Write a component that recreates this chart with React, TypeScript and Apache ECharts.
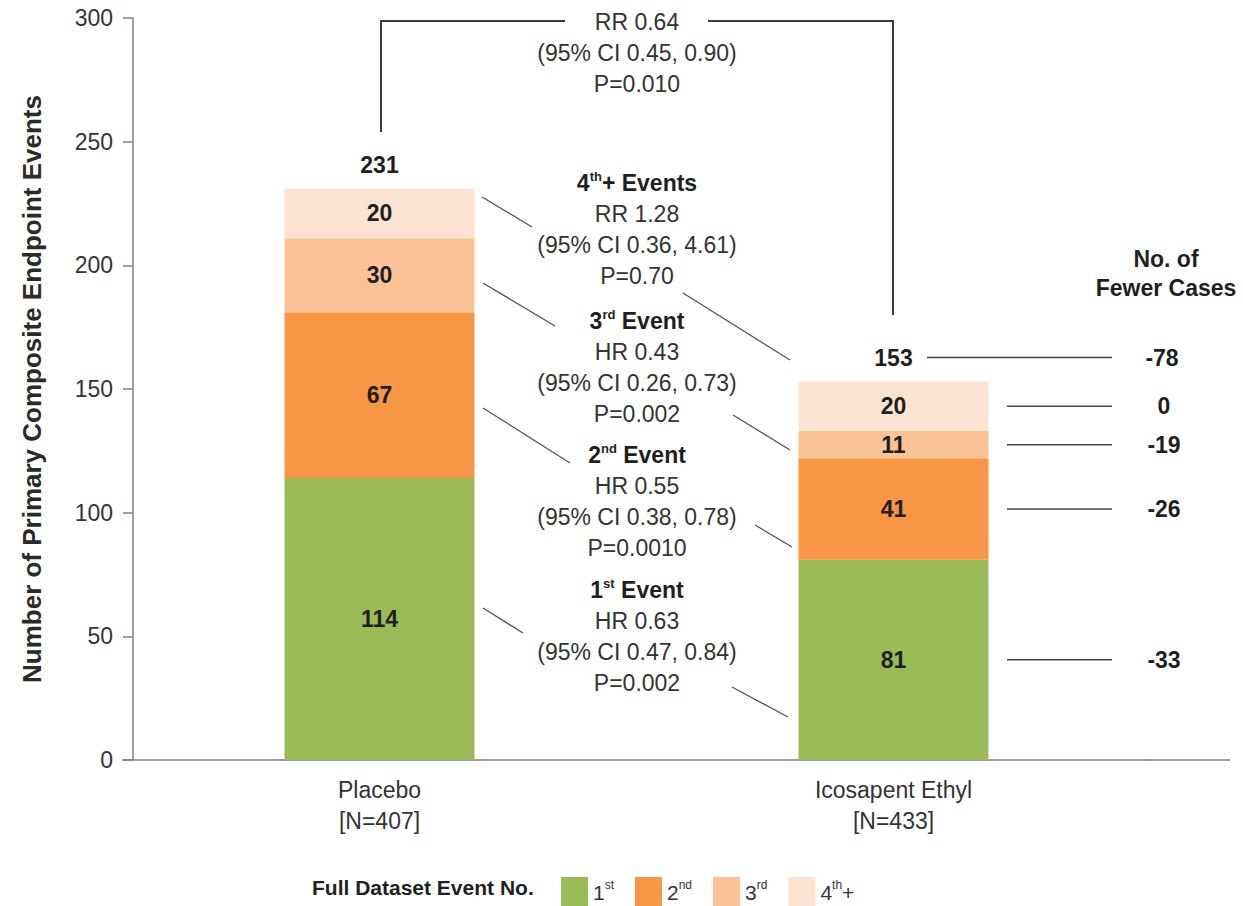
import React, { useEffect, useRef } from "react";
import * as echarts from "echarts";

// ---------- data ----------
const categories = ["Placebo", "Icosapent Ethyl"];
const categoryN = ["[N=407]", "[N=433]"];
const seriesNames = ["1st", "2nd", "3rd", "4th+"];
const legendParts = [
  ["1", "st", ""],
  ["2", "nd", ""],
  ["3", "rd", ""],
  ["4", "th", "+"],
];
const event1 = [114, 81];
const event2 = [67, 41];
const event3 = [30, 11];
const event4 = [20, 20];
const totals = [231, 153];
const fewerByEvent = [-33, -26, -19, 0];
const fewerTotal = -78;

const overallStats = ["RR 0.64", "(95% CI 0.45, 0.90)", "P=0.010"];
const eventHeaders = [
  ["4", "th", "+ Events"],
  ["3", "rd", " Event"],
  ["2", "nd", " Event"],
  ["1", "st", " Event"],
];
const eventStats = [
  ["RR 1.28", "(95% CI 0.36, 4.61)", "P=0.70"],
  ["HR 0.43", "(95% CI 0.26, 0.73)", "P=0.002"],
  ["HR 0.55", "(95% CI 0.38, 0.78)", "P=0.0010"],
  ["HR 0.63", "(95% CI 0.47, 0.84)", "P=0.002"],
];

// ---------- styles ----------
const FONT = '"Liberation Sans", Arial, Helvetica, sans-serif';
const COLORS = ["#9BBB59", "#F79646", "#FAC397", "#FCE3D1"];
const TEXT = "#333333";
const DARK = "#1f1f1f";
const LINE = "#3a3a3a";
const AXIS = "#808080";

function txt(x: number, y: number, text: string, opts: any = {}) {
  return {
    type: "text",
    x,
    y,
    silent: true,
    z: 10,
    style: {
      text,
      fill: opts.fill || TEXT,
      fontSize: opts.fontSize || 23,
      fontWeight: opts.fontWeight || "normal",
      fontFamily: FONT,
      align: opts.align || "center",
      textAlign: opts.align || "center",
      verticalAlign: "middle",
      textVerticalAlign: "middle",
    },
  };
}

function supTxt(x: number, y: number, parts: string[], size = 23) {
  return {
    type: "text",
    x,
    y,
    silent: true,
    style: {
      text: `{h|${parts[0]}}{s|${parts[1]}}{h|${parts[2]}}`,
      fontFamily: FONT,
      align: "center",
      textAlign: "center",
      verticalAlign: "middle",
      textVerticalAlign: "middle",
      rich: {
        h: { fontSize: size, fontWeight: "bold", fill: DARK, color: DARK, fontFamily: FONT, lineHeight: 26 },
        s: {
          fontSize: Math.round(size * 0.55),
          fontWeight: "bold",
          fill: DARK,
          color: DARK,
          fontFamily: FONT,
          verticalAlign: "top",
          lineHeight: 11,
        },
      },
    },
  };
}

function seg(x1: number, y1: number, x2: number, y2: number, w = 1.3, c = "#555") {
  return {
    type: "line",
    silent: true,
    shape: { x1, y1, x2, y2 },
    style: { stroke: c, lineWidth: w },
  };
}

function buildOption() {
  const stacks = [event1, event2, event3, event4];
  const barSeries = stacks.map((arr, k) => ({
    name: seriesNames[k],
    type: "bar",
    stack: "events",
    barWidth: 190,
    data: arr,
    itemStyle: { color: COLORS[k] },
    label: {
      show: true,
      position: "inside",
      fontSize: 23,
      fontWeight: "bold",
      color: DARK,
      fontFamily: FONT,
    },
    emphasis: { disabled: true },
  }));
  return {
    animation: false,
    backgroundColor: "#ffffff",
    textStyle: { fontFamily: FONT },
    grid: { left: 122.5, right: 92.5, top: 18, bottom: 146, containLabel: false, outerBoundsMode: "none" },
    legend: {
      data: seriesNames,
      left: 556,
      top: 872,
      icon: "rect",
      itemWidth: 27,
      itemHeight: 30,
      itemGap: 21,
      selectedMode: false,
      formatter: (name: string) => {
        const p = legendParts[seriesNames.indexOf(name)];
        return `{n|${p[0]}}{s|${p[1]}}{n|${p[2]}}`;
      },
      textStyle: {
        fontFamily: FONT,
        rich: {
          n: { fontSize: 21, color: TEXT, fontFamily: FONT, lineHeight: 26 },
          s: { fontSize: 12, color: TEXT, fontFamily: FONT, verticalAlign: "top", lineHeight: 11 },
        },
      },
    },
    xAxis: {
      type: "category",
      data: categories,
      axisLine: { show: true, onZero: false, lineStyle: { color: AXIS, width: 1.5 } },
      axisTick: { show: false },
      splitLine: { show: false },
      axisLabel: {
        formatter: (v: string, i: number) => `${v}\n${categoryN[i]}`,
        margin: 14,
        fontSize: 23,
        lineHeight: 31,
        color: TEXT,
        fontFamily: FONT,
      },
    },
    yAxis: {
      type: "value",
      min: 0,
      max: 300,
      interval: 50,
      offset: -10.5,
      name: "Number of Primary Composite Endpoint Events",
      nameLocation: "middle",
      nameGap: 88,
      nameRotate: 90,
      nameTextStyle: { fontSize: 26, fontWeight: "bold", color: "#2a2a2a", fontFamily: FONT },
      axisLine: { show: true, onZero: false, lineStyle: { color: AXIS, width: 1.5 } },
      axisTick: { show: true, length: 10, lineStyle: { color: AXIS, width: 1.5 } },
      axisLabel: { fontSize: 23, color: TEXT, margin: 20, fontFamily: FONT },
      splitLine: { show: false },
    },
    series: barSeries,
  };
}

export default function App() {
  const ref = useRef<HTMLDivElement>(null);
  useEffect(() => {
    const chart = echarts.init(ref.current!, null, { renderer: "svg" });
    chart.setOption(buildOption() as any);

    const pt = (i: number, v: number) => chart.convertToPixel({ gridIndex: 0 }, [i, v]) as number[];

    const g: any[] = [];
    // extension of the baseline to the right
    const y0 = pt(1, 0)[1];
    g.push(seg(1150, y0, 1230, y0, 1.5, AXIS));

    // totals above bars
    totals.forEach((t, i) => {
      const p = pt(i, t);
      g.push(txt(p[0], p[1] - 24, String(t), { fontWeight: "bold", fill: DARK }));
    });

    // overall bracket
    g.push({
      type: "polyline",
      silent: true,
      shape: { points: [[381, 132], [381, 21], [565, 21]] },
      style: { stroke: LINE, lineWidth: 2, fill: "none" },
    });
    g.push({
      type: "polyline",
      silent: true,
      shape: { points: [[708, 21], [893, 21], [893, 315]] },
      style: { stroke: LINE, lineWidth: 2, fill: "none" },
    });
    const cx = 637;
    overallStats.forEach((s, i) => g.push(txt(cx, 22 + i * 31, s)));

    // event blocks
    const blockTops = [183, 321, 455, 590];
    eventHeaders.forEach((h, k) => {
      const yb = blockTops[k];
      g.push(supTxt(cx, yb, h));
      eventStats[k].forEach((s, i) => g.push(txt(cx, yb + 31 * (i + 1), s)));
    });

    // connectors
    g.push(seg(482, 197, 532, 227));
    g.push(seg(683, 293, 790, 360));
    g.push(seg(483, 283, 555, 326));
    g.push(seg(733, 415, 790, 450));
    g.push(seg(483, 408, 570, 463));
    g.push(seg(755, 525, 792, 547));
    g.push(seg(483, 608, 523, 633));
    g.push(seg(732, 687, 788, 717));

    // right column
    g.push(txt(1166, 259, "No. of", { fontWeight: "bold", fill: DARK }));
    g.push(txt(1166, 288, "Fewer Cases", { fontWeight: "bold", fill: DARK }));
    const stacks = [event1, event2, event3, event4];
    let cum = 0;
    stacks.forEach((arr, k) => {
      const mid = cum + arr[1] / 2;
      cum += arr[1];
      const y = pt(1, mid)[1];
      g.push(seg(1007, y, 1112, y, 1.5, "#444"));
      g.push(txt(1164, y, String(fewerByEvent[k]), { fontWeight: "bold", fill: DARK }));
    });
    const yTot = pt(1, totals[1])[1] - 24;
    g.push(seg(927, yTot, 1112, yTot, 1.5, "#444"));
    g.push(txt(1162, yTot, String(fewerTotal), { fontWeight: "bold", fill: DARK }));

    // legend title
    g.push(txt(312, 887, "Full Dataset Event No.", { fontWeight: "bold", fill: DARK, fontSize: 21, align: "left" }));

    chart.setOption({ graphic: g } as any);
    return () => chart.dispose();
  }, []);
  return (
    <div
      ref={ref}
      style={{ position: "absolute", left: 0, top: 0, width: 1243, height: 906, background: "#fff" }}
    />
  );
}
